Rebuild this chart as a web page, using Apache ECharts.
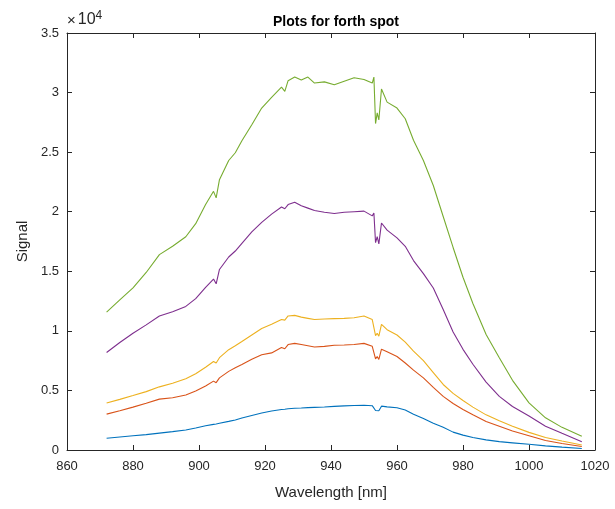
<!DOCTYPE html>
<html>
<head>
<meta charset="utf-8">
<script src="https://cdn.jsdelivr.net/npm/echarts@6/dist/echarts.min.js"></script>
<style>
html,body{margin:0;padding:0;background:#fff;}
#c{width:615px;height:509px;}
</style>
</head>
<body>
<div id="c"></div>
<script>
const wavelength = [872, 876, 880, 884, 888, 892, 896, 899, 902, 904.4, 905.2, 906.2, 909, 911, 913, 916, 919, 922, 925, 926, 927, 929, 931, 933, 935, 938, 941, 944, 947, 950, 952.5, 953, 953.5, 954, 954.5, 955.3, 957, 960, 962.5, 965, 968, 971, 974, 977, 980, 983, 987, 991, 995, 1000, 1005, 1010, 1016];

const blueSignal = [980, 1090, 1190, 1290, 1420, 1540, 1680, 1850, 2030, 2150, 2180, 2240, 2400, 2520, 2680, 2900, 3100, 3280, 3400, 3420, 3460, 3500, 3520, 3560, 3580, 3610, 3660, 3700, 3740, 3760, 3720, 3750, 3320, 3350, 3300, 3680, 3620, 3550, 3350, 3000, 2650, 2250, 1900, 1500, 1250, 1050, 850, 700, 600, 480, 350, 240, 130];

const redSignal = [3010, 3290, 3600, 3920, 4270, 4380, 4620, 4950, 5370, 5780, 5650, 6050, 6600, 6900, 7180, 7620, 8000, 8150, 8600, 8500, 8850, 8950, 8850, 8750, 8650, 8700, 8790, 8810, 8850, 8950, 8700, 8850, 7650, 7850, 7600, 8460, 8250, 7850, 7300, 6700, 6050, 5250, 4500, 3900, 3400, 2950, 2400, 2000, 1600, 1200, 800, 550, 300];

const yellowSignal = [3940, 4250, 4570, 4900, 5300, 5600, 5980, 6400, 6950, 7430, 7300, 7750, 8420, 8750, 9100, 9650, 10200, 10550, 10950, 10900, 11250, 11300, 11150, 11050, 10950, 11000, 11030, 11050, 11100, 11250, 10950, 11100, 9600, 9800, 9550, 10550, 10100, 9650, 9050, 8300, 7500, 6500, 5500, 4750, 4150, 3600, 2950, 2450, 2000, 1480, 1050, 750, 420];

const purpleSignal = [8180, 9020, 9800, 10500, 11250, 11600, 12050, 12700, 13650, 14350, 13950, 15150, 16200, 16700, 17350, 18300, 19100, 19800, 20400, 20250, 20600, 20800, 20500, 20300, 20100, 19950, 19850, 19950, 20000, 20050, 19650, 19900, 17400, 17900, 17300, 19050, 18450, 17800, 17100, 15900, 14800, 13600, 11800, 9900, 8450, 7200, 5700, 4500, 3650, 2850, 2000, 1400, 700];

const greenSignal = [11580, 12600, 13600, 14900, 16400, 17100, 17900, 19000, 20600, 21710, 21160, 22690, 24300, 24950, 25950, 27300, 28700, 29600, 30450, 30100, 31000, 31300, 31050, 31300, 30800, 30900, 30650, 30950, 31250, 31100, 30800, 31300, 27400, 28300, 27700, 30300, 29200, 28700, 27800, 26000, 24300, 22200, 19600, 17000, 14500, 12300, 9700, 7750, 5850, 3950, 2700, 1900, 1150];

const xTicks = [860, 880, 900, 920, 940, 960, 980, 1000, 1020];
const yTickLabels = ['0', '0.5', '1', '1.5', '2', '2.5', '3', '3.5'];

const seriesList = [
  {name: 's1', values: blueSignal, color: '#0072BD'},
  {name: 's2', values: redSignal, color: '#D95319'},
  {name: 's3', values: yellowSignal, color: '#EDB120'},
  {name: 's4', values: purpleSignal, color: '#7E2F8E'},
  {name: 's5', values: greenSignal, color: '#77AC30'}
];

const axisColor = '#262626';
const fontFam = "'Liberation Sans', Arial, Helvetica, sans-serif";

const chart = echarts.init(document.getElementById('c'), null, {renderer: 'canvas'});

function xAxisDef(pos, showLabel) {
  return {
    type: 'value', position: pos, min: xTicks[0], max: xTicks[xTicks.length - 1], interval: 20,
    axisLine: {show: true, onZero: false, lineStyle: {color: axisColor, width: 1}},
    axisTick: {show: true, inside: true, length: 5, lineStyle: {color: axisColor}},
    splitLine: {show: false},
    axisLabel: showLabel ? {show: true, margin: 10, color: axisColor, fontFamily: fontFam, fontSize: 13,
      formatter: function (v) { return String(v); }} : {show: false}
  };
}
function yAxisDef(pos, showLabel) {
  return {
    type: 'value', position: pos, min: 0, max: 35000, interval: 5000,
    axisLine: {show: true, onZero: false, lineStyle: {color: axisColor, width: 1}},
    axisTick: {show: true, inside: true, length: 5, lineStyle: {color: axisColor}},
    splitLine: {show: false},
    axisLabel: showLabel ? {show: true, margin: 8, color: axisColor, fontFamily: fontFam, fontSize: 13,
      formatter: function (v) { return yTickLabels[Math.round(v / 5000)]; }} : {show: false}
  };
}

const xBottom = xAxisDef('bottom', true);
xBottom.name = 'Wavelength [nm]';
xBottom.nameLocation = 'middle';
xBottom.nameGap = 35;
xBottom.nameTextStyle = {fontFamily: fontFam, fontSize: 15, color: axisColor};

const yLeft = yAxisDef('left', true);
yLeft.name = 'Signal';
yLeft.nameLocation = 'middle';
yLeft.nameGap = 37;
yLeft.nameTextStyle = {fontFamily: fontFam, fontSize: 15, color: axisColor};

chart.setOption({
  animation: false,
  backgroundColor: '#ffffff',
  title: {
    text: 'Plots for forth spot',
    left: 331, top: 10, textAlign: 'center',
    textStyle: {fontFamily: fontFam, fontSize: 14, fontWeight: 'bold', color: '#000'}
  },
  grid: {left: 67, right: 20, top: 33, bottom: 59, containLabel: false, outerBoundsMode: 'none'},
  xAxis: [xBottom, xAxisDef('top', false)],
  yAxis: [yLeft, yAxisDef('right', false)],
  graphic: [{
    type: 'text', left: 67, top: 10,
    style: {
      text: '{a|×}{c|10}{b|4}',
      rich: {
        a: {fontFamily: fontFam, fontSize: 15, fill: axisColor, verticalAlign: 'bottom', lineHeight: 18, padding: [0, 2, 0, 0]},
        c: {fontFamily: fontFam, fontSize: 16, fill: axisColor, verticalAlign: 'bottom', lineHeight: 18},
        b: {fontFamily: fontFam, fontSize: 12, fill: axisColor, verticalAlign: 'top', lineHeight: 18}
      }
    }
  }],
  series: seriesList.map(s => ({
    name: s.name, type: 'line', xAxisIndex: 0, yAxisIndex: 0,
    data: wavelength.map((w, i) => [w, s.values[i]]),
    showSymbol: false, symbol: 'none',
    lineStyle: {color: s.color, width: 1.1},
    itemStyle: {color: s.color},
    emphasis: {disabled: true}
  }))
});
</script>
</body>
</html>
